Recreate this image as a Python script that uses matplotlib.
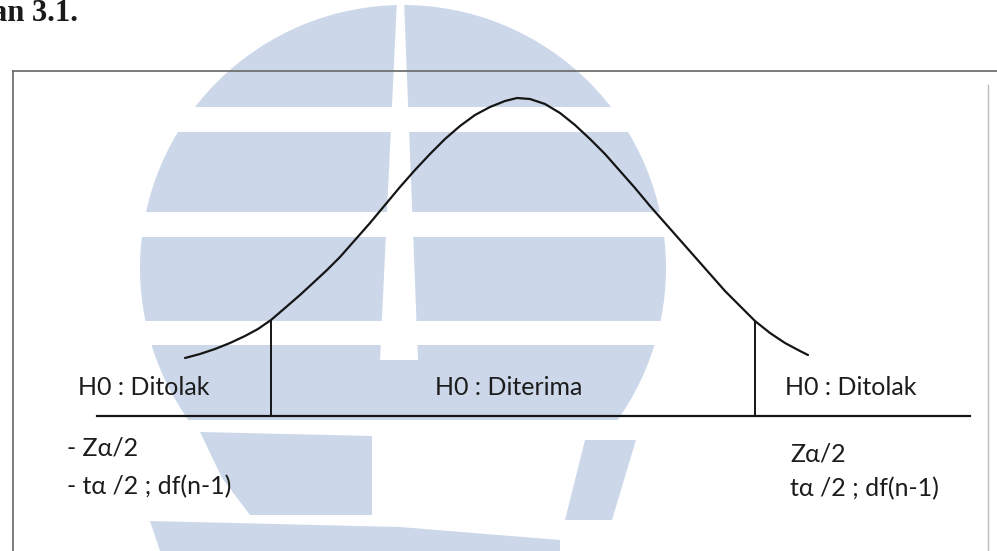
import numpy as np
import matplotlib
matplotlib.use('Agg')
import matplotlib.pyplot as plt
from matplotlib.patches import Circle, Rectangle, Polygon

# bell curve: horizontal position and height above the base line
curve_x = [185, 200, 215, 230, 245, 258, 271, 285, 300, 313, 327, 340, 355, 370,
           385, 400, 415, 430, 445, 460, 475, 490, 505, 517, 530, 545, 560, 575,
           590, 605, 620, 635, 650, 665, 680, 695, 710, 725, 740, 755, 770, 785,
           800, 808]
curve_h = [58, 62, 67, 73, 80, 87, 96, 108, 121, 133, 146, 159, 176, 193,
           211, 229, 246, 262, 277, 290, 301, 309, 315, 318, 317, 312, 303, 291,
           277, 262, 245, 228, 210, 193, 176, 159, 142, 125, 110, 95, 83, 73,
           65, 61]

crit_x = [271, 755]          # critical values (rejection boundaries)
base_x = [97, 970]

region_labels = ['H0 : Ditolak', 'H0 : Diterima', 'H0 : Ditolak']
left_crit_labels = ['- Z\u03b1/2', '- t\u03b1 /2 ; df(n-1)']
right_crit_labels = ['Z\u03b1/2', 't\u03b1 /2 ; df(n-1)']
caption = 'Bagan 3.1.'

W, H = 997, 551
BASE = 416
fig = plt.figure(figsize=(W / 100, H / 100), dpi=100)
fig.patch.set_facecolor('white')

# ---- background: watermark, frame, caption (pixel coords) ----
bg = fig.add_axes([0, 0, 1, 1])
bg.set_xlim(0, W)
bg.set_ylim(H, 0)
bg.axis('off')

wm = '#ccd8e9'
circ = Circle((403, 268), 263, color=wm, lw=0, zorder=1)
bg.add_patch(circ)
circ.set_clip_path(Rectangle((0, 0), W, 420, transform=bg.transData))
for y0, y1 in [(107, 132), (212, 237), (321, 345)]:
    bg.add_patch(Rectangle((0, y0), W, y1 - y0, color='white', lw=0, zorder=2))
bg.add_patch(Polygon([(397, 0), (404, 0), (418, 360), (380, 360)],
                     closed=True, color='white', lw=0, zorder=2))
# lower parts of the logo
bg.add_patch(Polygon([(200, 432), (372, 436), (372, 515), (250, 515), (222, 478)],
                     closed=True, color=wm, lw=0, zorder=1))
bg.add_patch(Polygon([(150, 521), (400, 527), (560, 540), (560, H), (160, H)],
                     closed=True, color=wm, lw=0, zorder=1))
bg.add_patch(Polygon([(585, 440), (636, 440), (612, 520), (565, 520)],
                     closed=True, color=wm, lw=0, zorder=1))

frame_c = '#666666'
bg.plot([13, W], [71, 71], color=frame_c, lw=1.2, zorder=3)
bg.plot([13, 13], [71, H], color=frame_c, lw=1.2, zorder=3)
bg.plot([988, 988], [85, H], color='#bbbbbb', lw=1.0, zorder=3)

bg.text(78, 21, caption, ha='right', va='baseline', fontsize=22,
        fontweight='bold', family='Liberation Serif', color='#1a1a1a', zorder=4)

# ---- diagram: x = position, y = height above base line ----
ax = fig.add_axes([0, 0, 1, 1])
ax.patch.set_alpha(0)
ax.set_xlim(0, W)
ax.set_ylim(BASE - H, BASE)
ax.axis('off')

line_c = '#151515'
ax.plot(curve_x, curve_h, color=line_c, lw=1.6, solid_capstyle='round',
        solid_joinstyle='round', zorder=5)
ax.plot(base_x, [0, 0], color=line_c, lw=1.6, zorder=5)
crit_h = np.interp(crit_x, curve_x, curve_h)
ax.vlines(crit_x, 0, crit_h, color=line_c, lw=1.4, zorder=5)

fam = ['Lato', 'DejaVu Sans']
txt_c = '#1c1c1c'
fs = 18
for lab, x in zip(region_labels, [78, 435, 785]):
    ax.text(x, BASE - 395, lab, ha='left', va='baseline', fontsize=fs,
            family=fam, color=txt_c, zorder=6)
for lab, y in zip(left_crit_labels, [456, 494]):
    ax.text(67, BASE - y, lab, ha='left', va='baseline', fontsize=fs,
            family=fam, color=txt_c, zorder=6)
for lab, y in zip(right_crit_labels, [461, 496]):
    ax.text(790, BASE - y, lab, ha='left', va='baseline', fontsize=fs,
            family=fam, color=txt_c, zorder=6)

fig.savefig('out.png', dpi=100, facecolor='white')
